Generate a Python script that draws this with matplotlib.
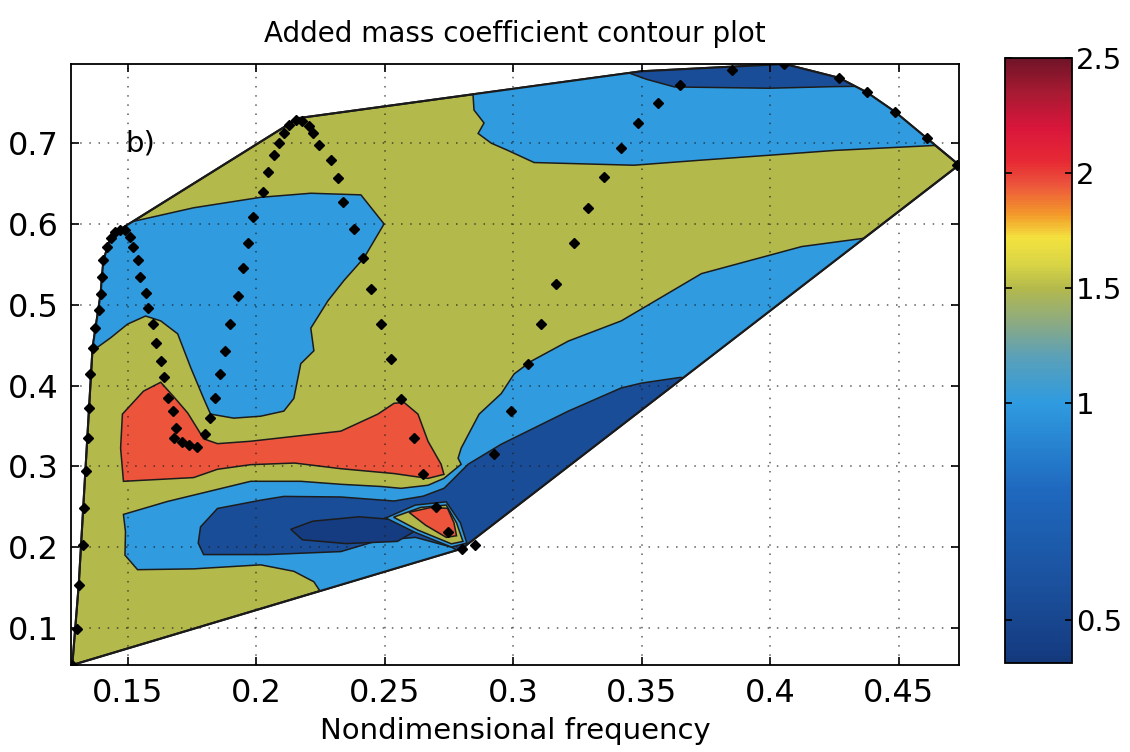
import numpy as np
import matplotlib
matplotlib.use("Agg")
import matplotlib.pyplot as plt
from matplotlib.colors import LinearSegmentedColormap, FuncNorm
from matplotlib.cm import ScalarMappable
from matplotlib.patches import Polygon

# outline of the measured domain (frequency, amplitude)
hull_x = [0.1285, 0.280, 0.4735, 0.461, 0.4485, 0.4376, 0.4267, 0.4056, 0.350, 0.2165,
          0.147, 0.1434, 0.1406, 0.1395, 0.1364, 0.131]
hull_y = [0.054, 0.198, 0.673, 0.706, 0.739, 0.763, 0.781, 0.798, 0.789, 0.731,
          0.593, 0.583, 0.555, 0.513, 0.447, 0.153]

# contour bands: (level, x, y), painted in this order and clipped to the domain
band_top_left_x = [0.120, 0.120, 0.152, 0.1757, 0.2018, 0.2213, 0.2408, 0.2498, 0.242, 0.2342,
                   0.228, 0.2213, 0.2225, 0.2174, 0.2147, 0.2108, 0.2018, 0.1913, 0.1823,
                   0.1796, 0.1746, 0.1695, 0.1629, 0.157, 0.150, 0.1434, 0.1364]
band_top_left_y = [0.440, 0.620, 0.603, 0.620, 0.633, 0.638, 0.636, 0.600, 0.558, 0.530,
                   0.505, 0.471, 0.443, 0.427, 0.384, 0.3683, 0.362, 0.3596, 0.3646,
                   0.384, 0.422, 0.464, 0.480, 0.486, 0.476, 0.459, 0.443]

band_top_x = [0.284, 0.2848, 0.2887, 0.2864, 0.2915, 0.298, 0.3082, 0.347, 0.3733, 0.3994,
              0.4251, 0.463, 0.490, 0.490, 0.284]
band_top_y = [0.780, 0.741, 0.725, 0.712, 0.700, 0.691, 0.676, 0.6727, 0.679, 0.685,
              0.691, 0.697, 0.700, 0.850, 0.850]

band_cap_x = [0.345, 0.352, 0.3628, 0.3994, 0.425, 0.450, 0.460, 0.345]
band_cap_y = [0.787, 0.779, 0.7696, 0.768, 0.770, 0.771, 0.850, 0.850]

band_low_x = [0.1484, 0.1492, 0.149, 0.1539, 0.1757, 0.2018, 0.2147, 0.2225, 0.226, 0.240,
              0.300, 0.460, 0.450, 0.4123, 0.3733, 0.3421, 0.3215, 0.307, 0.3004, 0.2954,
              0.2868, 0.2798, 0.2786, 0.2798, 0.2731, 0.2669, 0.2564, 0.2486, 0.233,
              0.2174, 0.1979, 0.1656]
band_low_y = [0.2404, 0.219, 0.190, 0.172, 0.173, 0.178, 0.170, 0.157, 0.140, 0.120,
              0.150, 0.580, 0.588, 0.572, 0.5385, 0.480, 0.455, 0.430, 0.4143, 0.390,
              0.3646, 0.3224, 0.310, 0.3025, 0.285, 0.2765, 0.2727, 0.275, 0.2777,
              0.2814, 0.2814, 0.2565]

band_deep_x = [0.1784, 0.185, 0.2018, 0.2108, 0.233, 0.2537, 0.265, 0.2731, 0.2759, 0.2825,
               0.2954, 0.3215, 0.3421, 0.350, 0.365, 0.400, 0.320, 0.284, 0.276, 0.262,
               0.2474, 0.233, 0.2046, 0.1796, 0.1775]
band_deep_y = [0.225, 0.2478, 0.258, 0.2627, 0.262, 0.257, 0.263, 0.2727, 0.2814, 0.3025,
               0.3273, 0.3683, 0.397, 0.403, 0.410, 0.400, 0.180, 0.185, 0.200, 0.212,
               0.208, 0.1944, 0.1907, 0.1907, 0.205]

band_core_x = [0.2135, 0.222, 0.240, 0.258, 0.263, 0.255, 0.235, 0.218]
band_core_y = [0.222, 0.232, 0.2375, 0.233, 0.222, 0.207, 0.2043, 0.209]

wedge_outer_x = [0.2505, 0.262, 0.274, 0.2795, 0.282, 0.276, 0.262]
wedge_outer_y = [0.236, 0.252, 0.256, 0.230, 0.205, 0.200, 0.218]
wedge_mid_x = [0.2535, 0.264, 0.274, 0.278, 0.2805, 0.276, 0.263]
wedge_mid_y = [0.237, 0.249, 0.252, 0.230, 0.207, 0.204, 0.221]
wedge_inner_x = [0.2595, 0.268, 0.2745, 0.277, 0.278, 0.274, 0.266]
wedge_inner_y = [0.243, 0.249, 0.248, 0.230, 0.214, 0.212, 0.227]

band_peak_x = [0.1629, 0.168, 0.1734, 0.1775, 0.1796, 0.185, 0.1979, 0.2147, 0.233, 0.2474,
               0.2537, 0.2576, 0.263, 0.2669, 0.272, 0.2731, 0.2669, 0.2537, 0.233, 0.215,
               0.1979, 0.185, 0.1757, 0.1484, 0.1473, 0.148, 0.1562]
band_peak_y = [0.404, 0.386, 0.366, 0.345, 0.334, 0.328, 0.331, 0.337, 0.3435, 0.3646,
               0.378, 0.379, 0.3646, 0.331, 0.3025, 0.290, 0.285, 0.291, 0.297, 0.304,
               0.302, 0.2963, 0.286, 0.2814, 0.3224, 0.3646, 0.393]

bands = [
    (1.00, band_top_left_x, band_top_left_y),
    (1.00, band_top_x, band_top_y),
    (0.55, band_cap_x, band_cap_y),
    (1.00, band_low_x, band_low_y),
    (0.55, band_deep_x, band_deep_y),
    (0.42, band_core_x, band_core_y),
    (1.00, wedge_outer_x, wedge_outer_y),
    (1.50, wedge_mid_x, wedge_mid_y),
    (1.95, wedge_inner_x, wedge_inner_y),
    (1.95, band_peak_x, band_peak_y),
]
background_level = 1.50

# test points along the towing runs
run_x = [0.1285, 0.1305, 0.131, 0.1325, 0.133, 0.1338, 0.1345, 0.135, 0.1355, 0.1364,
         0.1375, 0.1388, 0.1395, 0.140, 0.1406, 0.142, 0.1434, 0.145, 0.147, 0.149,
         0.151, 0.152, 0.154, 0.155, 0.157, 0.158, 0.160, 0.161, 0.163, 0.164,
         0.1656, 0.1675, 0.169, 0.168, 0.171, 0.174, 0.177, 0.180, 0.182, 0.184,
         0.186, 0.188, 0.190, 0.193, 0.195, 0.197, 0.199, 0.2026, 0.2046, 0.207,
         0.209, 0.211, 0.213, 0.2155, 0.218, 0.2205, 0.222, 0.2244, 0.229, 0.2318,
         0.234, 0.238, 0.2416, 0.2447, 0.2486, 0.2525, 0.2564, 0.2615, 0.265, 0.270,
         0.2747, 0.280, 0.285, 0.2926, 0.2993, 0.3059, 0.311, 0.3168, 0.3238, 0.3293,
         0.3355, 0.342, 0.3488, 0.3565, 0.365, 0.385, 0.4056, 0.4267, 0.4376, 0.4485,
         0.461, 0.4727]
run_y = [0.054, 0.099, 0.153, 0.203, 0.248, 0.294, 0.335, 0.372, 0.414, 0.447,
         0.471, 0.493, 0.513, 0.534, 0.555, 0.571, 0.583, 0.590, 0.593, 0.592,
         0.584, 0.571, 0.555, 0.534, 0.515, 0.496, 0.476, 0.452, 0.430, 0.410,
         0.384, 0.368, 0.347, 0.335, 0.330, 0.326, 0.324, 0.340, 0.360, 0.384,
         0.414, 0.443, 0.476, 0.511, 0.546, 0.577, 0.608, 0.639, 0.664, 0.685,
         0.700, 0.713, 0.722, 0.729, 0.728, 0.721, 0.712, 0.6975, 0.679, 0.6565,
         0.627, 0.594, 0.558, 0.520, 0.476, 0.433, 0.383, 0.335, 0.290, 0.250,
         0.219, 0.198, 0.203, 0.315, 0.3683, 0.4267, 0.476, 0.526, 0.576, 0.620,
         0.658, 0.694, 0.725, 0.750, 0.772, 0.790, 0.798, 0.781, 0.763, 0.739,
         0.706, 0.673]

x_ticks = [0.15, 0.2, 0.25, 0.3, 0.35, 0.4, 0.45]
y_ticks = [0.1, 0.2, 0.3, 0.4, 0.5, 0.6, 0.7]
cbar_ticks = [0.5, 1.0, 1.5, 2.0, 2.5]

# colour scale: value -> colour, and the stretched value axis of the bar
cmap_vals = [0.40, 0.42, 0.55, 0.80, 1.00, 1.20, 1.35, 1.50, 1.60, 1.72, 1.82, 1.95, 2.05,
             2.20, 2.35, 2.50]
cmap_cols = ['#133878', '#153c82', '#1a4d98', '#1f69bf', '#2f9be0', '#5aa0b9', '#8caa82',
             '#b4b94c', '#d7d446', '#f3e23e', '#f39a2a', '#ec553c', '#e72a34', '#d9163c',
             '#a81a32', '#701428']
scale_vals = [0.40, 0.5, 1.0, 1.5, 2.0, 2.5]
scale_pos = [0.0, 0.071, 0.43, 0.62, 0.81, 1.0]


def fwd(v):
    return np.interp(v, scale_vals, scale_pos)


def inv(p):
    return np.interp(p, scale_pos, scale_vals)


norm = FuncNorm((fwd, inv), vmin=0.40, vmax=2.5)
cmap = LinearSegmentedColormap.from_list(
    "added_mass", list(zip(fwd(np.array(cmap_vals)), cmap_cols)))

plt.rcParams['font.family'] = 'DejaVu Sans'
plt.rcParams['font.size'] = 23

fig = plt.figure(figsize=(11.3, 7.52), dpi=100)
ax = fig.add_axes([71 / 1130, 1 - 665 / 752, 888 / 1130, 601 / 752])

hull = Polygon(np.column_stack([hull_x, hull_y]), closed=True,
               facecolor=cmap(norm(background_level)), edgecolor='#1a1a1a', lw=1.5, zorder=1)
ax.add_patch(hull)

for level, bx, by in bands:
    p = Polygon(np.column_stack([bx, by]), closed=True, facecolor=cmap(norm(level)),
                edgecolor='#1c1c1c', lw=1.1, zorder=1.2)
    ax.add_patch(p)
    p.set_clip_path(hull)

# redraw the domain outline on top of the clipped bands
ax.add_patch(Polygon(np.column_stack([hull_x, hull_y]), closed=True, fill=False,
                     edgecolor='#1a1a1a', lw=1.5, zorder=1.5))

ax.plot(run_x, run_y, linestyle='none', marker='D', ms=5.5, color='k', zorder=4)

ax.text(0.1490, 0.700, 'b)', fontsize=21, ha='left', va='center', zorder=5)

ax.set_xlim(0.128, 0.4735)
ax.set_ylim(0.054, 0.798)
ax.set_xticks(x_ticks)
ax.set_xticklabels(['%g' % t for t in x_ticks])
ax.set_yticks(y_ticks)
ax.set_yticklabels(['%g' % t for t in y_ticks])
ax.tick_params(direction='in', length=6, width=1.2, top=True, right=True, pad=9)
ax.set_axisbelow(False)
ax.grid(True, linestyle=(0, (1, 5)), color='0.1', lw=1.1, alpha=0.7)
for s in ax.spines.values():
    s.set_linewidth(1.3)

ax.set_title('Added mass coefficient contour plot', fontsize=20, pad=16)
ax.set_xlabel('Nondimensional frequency', fontsize=21, labelpad=6)

cax = fig.add_axes([1005 / 1130, 1 - 663 / 752, 67 / 1130, 605 / 752])
cb = fig.colorbar(ScalarMappable(norm=norm, cmap=cmap), cax=cax, ticks=cbar_ticks)
cb.ax.set_yticklabels(['%g' % t for t in cbar_ticks])
cb.ax.tick_params(direction='in', length=5, width=1.2, left=True, right=True, pad=3,
                  labelsize=21)
cb.outline.set_linewidth(1.3)

fig.savefig('out.png', dpi=100)
